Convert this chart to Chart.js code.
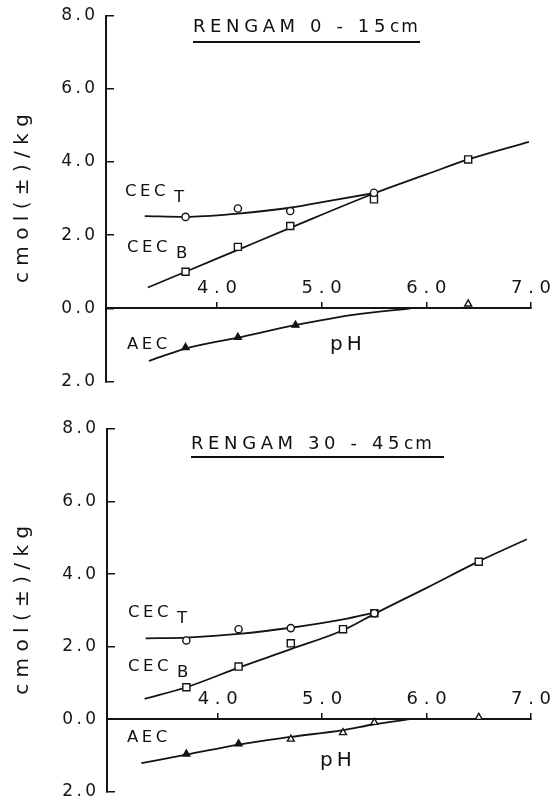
<!DOCTYPE html>
<html>
<head>
<meta charset="utf-8">
<script src="https://cdn.jsdelivr.net/npm/chart.js@4.4.1/dist/chart.umd.min.js"></script>
<style>
  body { margin: 0; background: #fff; width: 555px; height: 802px; position: relative; overflow: hidden;
         font-family: 'DejaVu Sans', sans-serif; color: #111; }
  canvas { position: absolute; left: 0; }
  .lbl { position: absolute; line-height: 1; white-space: nowrap; }
  .ser { font-size: 16.5px; letter-spacing: 3.5px; }
  .ser span { position: relative; top: 6px; margin-left: 5px; }
  .ttl { font-size: 18px; letter-spacing: 4.6px; }
  .ttl small { font-size: 17px; letter-spacing: 2px; }
  .rule { position: absolute; height: 2px; background: #111; }
  .ph { font-size: 20px; letter-spacing: 4px; }
</style>
</head>
<body>
<canvas id="topChart" width="555" height="400" style="top:0"></canvas>
<canvas id="botChart" width="555" height="402" style="top:400px"></canvas>

<div class="lbl ttl" style="left:193px; top:17px">RENGAM 0 - 15<small>cm</small></div>
<div class="rule" style="left:193px; top:41px; width:227px"></div>
<div class="lbl ser" style="left:125px; top:183px">CEC<span>T</span></div>
<div class="lbl ser" style="left:127px; top:239px">CEC<span>B</span></div>
<div class="lbl ser" style="left:127px; top:336px">AEC</div>
<div class="lbl ph" style="left:330px; top:333px">pH</div>

<div class="lbl ttl" style="left:191px; top:434px">RENGAM 30 - 45<small>cm</small></div>
<div class="rule" style="left:191px; top:456px; width:253px"></div>
<div class="lbl ser" style="left:128px; top:604px">CEC<span>T</span></div>
<div class="lbl ser" style="left:128px; top:658px">CEC<span>B</span></div>
<div class="lbl ser" style="left:127px; top:729px">AEC</div>
<div class="lbl ph" style="left:320px; top:749px">pH</div>

<script>
const ink = '#141414';
const font = "'DejaVu Sans', sans-serif";

// axes
const phMin = 2.94;
const phMax = 7.0;
const xTicks = [4, 5, 6, 7];
const yMin = -2;
const yMax = 8;
const yStep = 2;

// RENGAM 0-15 cm : measured points
const topCecTpH = [3.7, 4.2, 4.7, 5.5];
const topCecT = [2.50, 2.73, 2.66, 3.16];
const topCecBpH = [3.7, 4.2, 4.7, 5.5, 6.4];
const topCecB = [1.00, 1.68, 2.25, 2.98, 4.07];
const topAecFullpH = [3.7, 4.2, 4.75];
const topAecFull = [-1.07, -0.79, -0.46];
const topAecOpenpH = [6.4];
const topAecOpen = [0.12];
// RENGAM 0-15 cm : fitted curves
const topCecTCurvepH = [3.31, 3.7, 4.2, 4.7, 5.1, 5.52];
const topCecTCurve = [2.52, 2.50, 2.59, 2.75, 2.95, 3.16];
const topCecBCurvepH = [3.34, 3.7, 4.2, 4.7, 5.5, 6.0, 6.4, 6.98];
const topCecBCurve = [0.57, 1.00, 1.60, 2.20, 3.14, 3.66, 4.07, 4.55];
const topAecCurvepH = [3.35, 3.7, 4.2, 4.75, 5.3, 5.85];
const topAecCurve = [-1.44, -1.10, -0.80, -0.46, -0.18, 0];

// RENGAM 30-45 cm : measured points
const botCecTpH = [3.7, 4.2, 4.7, 5.5];
const botCecT = [2.17, 2.48, 2.51, 2.92];
const botCecBpH = [3.7, 4.2, 4.7, 5.2, 5.5, 6.5];
const botCecB = [0.88, 1.45, 2.09, 2.48, 2.92, 4.34];
const botAecFullpH = [3.7, 4.2];
const botAecFull = [-0.96, -0.68];
const botAecOpenpH = [4.7, 5.2, 5.5, 6.5];
const botAecOpen = [-0.55, -0.37, -0.09, 0.05];
// RENGAM 30-45 cm : fitted curves
const botCecTCurvepH = [3.31, 3.7, 4.2, 4.7, 5.2, 5.52];
const botCecTCurve = [2.23, 2.25, 2.35, 2.52, 2.75, 2.95];
const botCecBCurvepH = [3.30, 3.7, 4.2, 4.7, 5.2, 5.52, 6.0, 6.5, 6.96];
const botCecBCurve = [0.56, 0.88, 1.42, 1.93, 2.45, 2.93, 3.62, 4.35, 4.96];
const botAecCurvepH = [3.27, 3.7, 4.2, 4.7, 5.2, 5.5, 5.84];
const botAecCurve = [-1.21, -0.98, -0.70, -0.49, -0.30, -0.14, 0];

function pts(xs, ys) {
  return xs.map((x, i) => ({ x, y: ys[i] }));
}

function marks(data, style, radius, fill) {
  return {
    data, showLine: false, pointStyle: style, pointRadius: radius,
    pointBackgroundColor: fill, pointBorderColor: ink, pointBorderWidth: 1.4
  };
}

function curve(data) {
  return {
    data, showLine: true, pointRadius: 0, borderColor: ink, borderWidth: 1.8,
    cubicInterpolationMode: 'monotone', fill: false
  };
}

// keep the scales from pushing the plot area around
function noPad(sc) {
  sc.paddingTop = sc.paddingBottom = sc.paddingLeft = sc.paddingRight = 0;
}

function makeChart(id, area, s) {
  const canvas = document.getElementById(id);
  return new Chart(canvas.getContext('2d'), {
    type: 'scatter',
    data: {
      datasets: [
        marks(pts(s.tpH, s.t), 'circle', 3.6, '#fff'),
        marks(pts(s.bpH, s.b), 'rect', 5, '#fff'),
        marks(pts(s.afpH, s.af), 'triangle', 4, ink),
        marks(pts(s.aopH, s.ao), 'triangle', 4, '#fff'),
        curve(pts(s.tcpH, s.tc)),
        curve(pts(s.bcpH, s.bc)),
        curve(pts(s.acpH, s.ac))
      ]
    },
    options: {
      responsive: false,
      animation: false,
      layout: {
        padding: { left: 0, top: area.top, right: canvas.width - area.right, bottom: canvas.height - area.bottom }
      },
      plugins: { legend: { display: false }, tooltip: { enabled: false } },
      scales: {
        x: {
          type: 'linear',
          position: { y: 0 },
          min: phMin,
          max: phMax,
          afterBuildTicks: sc => { sc.ticks = xTicks.map(v => ({ value: v })); },
          afterFit: noPad,
          ticks: {
            padding: -24,
            color: ink,
            font: { family: font, size: 18 },
            callback: v => v.toFixed(1).split('').join(' ')
          },
          grid: { drawOnChartArea: false, tickLength: -7, color: ink, lineWidth: 1.5 },
          border: { color: ink, width: 2 }
        },
        y: {
          min: yMin,
          max: yMax,
          afterFit: sc => { sc.width = area.left; noPad(sc); },
          ticks: {
            stepSize: yStep,
            padding: 19,
            color: ink,
            font: { family: font, size: 17 },
            callback: v => Math.abs(v).toFixed(1).split('').join('\u2009')
          },
          grid: { drawOnChartArea: false, tickLength: -8, color: ink, lineWidth: 1.5 },
          border: { color: ink, width: 2 },
          title: {
            display: true,
            text: 'c m o l ( ± ) / k g',
            color: ink,
            font: { family: font, size: 20 },
            padding: 11
          }
        }
      }
    }
  });
}

makeChart('topChart', { left: 106, right: 531, top: 15.7, bottom: 381.5 }, {
  tpH: topCecTpH, t: topCecT, bpH: topCecBpH, b: topCecB,
  afpH: topAecFullpH, af: topAecFull, aopH: topAecOpenpH, ao: topAecOpen,
  tcpH: topCecTCurvepH, tc: topCecTCurve, bcpH: topCecBCurvepH, bc: topCecBCurve,
  acpH: topAecCurvepH, ac: topAecCurve
});

makeChart('botChart', { left: 107, right: 531, top: 29, bottom: 391.7 }, {
  tpH: botCecTpH, t: botCecT, bpH: botCecBpH, b: botCecB,
  afpH: botAecFullpH, af: botAecFull, aopH: botAecOpenpH, ao: botAecOpen,
  tcpH: botCecTCurvepH, tc: botCecTCurve, bcpH: botCecBCurvepH, bc: botCecBCurve,
  acpH: botAecCurvepH, ac: botAecCurve
});
</script>
</body>
</html>
